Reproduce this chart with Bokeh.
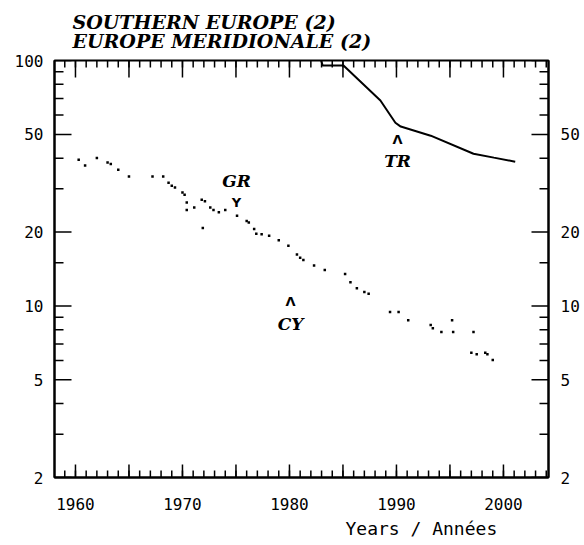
import math
from bokeh.plotting import figure
from bokeh.models import LogAxis, FixedTicker, Title, Range1d, ColumnDataSource
from bokeh.core.properties import value
from bokeh.embed import file_html
from bokeh.resources import INLINE

# ---- data (rates per 1000, log scale) ----
gr_years = [1960.3, 1960.9, 1962.0, 1963.0, 1963.3, 1964.0, 1965.0, 1967.2, 1968.2, 1968.7,
            1969.0, 1969.3, 1970.0, 1970.2, 1970.4, 1970.4, 1971.1, 1971.8, 1972.1, 1972.6,
            1972.9, 1973.4, 1974.0, 1975.1, 1976.0, 1976.2, 1976.7, 1976.9, 1977.4, 1978.1,
            1979.0, 1979.9, 1980.7, 1981.0, 1981.3, 1982.3, 1983.3, 1985.2, 1985.7, 1986.3,
            1987.0, 1987.4, 1989.4, 1990.2, 1991.1, 1993.2, 1993.4, 1994.2, 1995.3, 1997.0,
            1997.5, 1998.5, 1999.0]
gr_values = [39.4, 37.3, 40.1, 38.4, 37.9, 35.9, 33.7, 33.7, 33.7, 31.8,
             30.9, 30.4, 29.0, 28.4, 26.4, 24.6, 25.2, 27.1, 26.7, 25.2,
             24.6, 24.1, 24.6, 23.3, 22.2, 21.9, 20.6, 19.7, 19.6, 19.3,
             18.5, 17.6, 16.2, 15.7, 15.4, 14.6, 14.0, 13.5, 12.5, 11.8,
             11.4, 11.2, 9.45, 9.45, 8.75, 8.36, 8.11, 7.83, 7.83, 6.45,
             6.35, 6.35, 6.02]
cy_years = [1971.9, 1995.2, 1997.2, 1998.3]
cy_values = [20.8, 8.75, 7.83, 6.45]
tr_years = [1982.0, 1983.1, 1985.05, 1988.5, 1989.9, 1990.4, 1993.2, 1997.2, 1999.1, 2001.1]
tr_values = [140.0, 95.4, 95.4, 68.7, 55.8, 53.8, 49.4, 41.7, 40.2, 38.7]

x_start, x_end = 1958.04, 2004.21
y_start, y_end = 2, 100
y_ticks = [2, 5, 10, 20, 50, 100]
y_minor = [3, 4, 6, 7, 8, 9, 15, 30, 40, 60, 70, 80, 90]
x_ticks = [1960, 1965, 1970, 1975, 1980, 1985, 1990, 1995, 2000]
x_minor = list(range(1959, 2005))
x_label_years = {1960: "1960", 1970: "1970", 1980: "1980", 1990: "1990", 2000: "2000"}

labels_txt = ["GR", "TR", "CY"]
labels_x = [1975.05, 1990.1, 1980.1]
labels_y = [32.4, 39.1, 8.45]
arrows_txt = ["Y", "\u039b", "\u039b"]
arrows_y = [26.3, 47.6, 10.4]

title1 = "SOUTHERN EUROPE (2)"
title2 = "EUROPE MERIDIONALE (2)"
xlabel = "Years / Ann\u00e9es"

# ---- figure ----
p = figure(width=584, height=545, y_axis_type="log",
           x_range=Range1d(x_start, x_end), y_range=Range1d(y_start, y_end),
           output_backend="svg", toolbar_location=None, title=None,
           min_border_left=54, min_border_right=36, min_border_top=60, min_border_bottom=68)
p.grid.visible = False
p.outline_line_color = "black"
p.outline_line_width = 2


def style_axis(ax):
    ax.axis_line_width = 2
    ax.major_tick_in = 0
    ax.major_tick_out = 0
    ax.minor_tick_in = 0
    ax.minor_tick_out = 0
    ax.major_label_text_font = "DejaVu Sans Mono"
    ax.major_label_text_font_size = "16px"
    ax.major_label_text_color = "black"


yt = FixedTicker(ticks=y_ticks, minor_ticks=y_minor)
xt = FixedTicker(ticks=x_ticks, minor_ticks=x_minor)
xover = {t: x_label_years.get(t, "") for t in x_ticks}

p.yaxis.ticker = yt
p.xaxis.ticker = xt
style_axis(p.yaxis[0])
style_axis(p.xaxis[0])
p.yaxis.major_label_standoff = 11
p.xaxis.major_label_standoff = 20
p.xaxis.major_label_overrides = xover

ry = LogAxis(ticker=yt)
style_axis(ry)
ry.major_label_standoff = 12
ry.major_label_overrides = {100: ""}
p.add_layout(ry, "right")

# titles
p.add_layout(Title(text=title1 + "\n" + title2, text_font="DejaVu Serif", text_font_size="19px",
                   text_font_style="bold italic", text_color="black", text_line_height=0.85,
                   align="left", offset=18, standoff=17), "above")
p.add_layout(Title(text=xlabel, text_font="DejaVu Sans Mono", text_font_size="18px",
                   text_font_style="normal", text_color="black",
                   align="left", offset=291, standoff=7), "below")

# tick marks drawn inward on all four sides
def ticks_y(vals, x0, ang, length):
    p.ray(x=[x0] * len(vals), y=vals, length=length, angle=ang, length_units="screen",
          line_color="black", line_width=1.5)

def ticks_x(vals, y0, ang, length):
    p.ray(x=vals, y=[y0] * len(vals), length=length, angle=ang, length_units="screen",
          line_color="black", line_width=1.5)

ticks_y(y_ticks, x_start, 0, 17)
ticks_y(y_minor, x_start, 0, 9)
ticks_y(y_ticks, x_end, math.pi, 17)
ticks_y(y_minor, x_end, math.pi, 9)
ticks_x(x_ticks, y_end, -math.pi / 2, 17)
ticks_x(x_minor, y_end, -math.pi / 2, 7)
ticks_x(x_ticks, y_start, math.pi / 2, 13)
ticks_x(x_minor, y_start, math.pi / 2, 7)

# data
p.line(tr_years, tr_values, line_color="black", line_width=2)
p.scatter(gr_years, gr_values, marker="square", size=2.5, fill_color="black", line_color=None)
p.scatter(cy_years, cy_values, marker="square", size=2.5, fill_color="black", line_color=None)

src = ColumnDataSource(dict(x=labels_x, y=labels_y, t=labels_txt))
p.text(x="x", y="y", text="t", source=src, text_font=value("DejaVu Serif"),
       text_font_style="bold italic", text_font_size="17px",
       text_align="center", text_baseline="middle", text_color="black")
src2 = ColumnDataSource(dict(x=labels_x, y=arrows_y, t=arrows_txt))
p.text(x="x", y="y", text="t", source=src2, text_font=value("DejaVu Sans"),
       text_font_style="bold", text_font_size="13px",
       text_align="center", text_baseline="middle", text_color="black")

open("out.html", "w").write(file_html(p, INLINE))
